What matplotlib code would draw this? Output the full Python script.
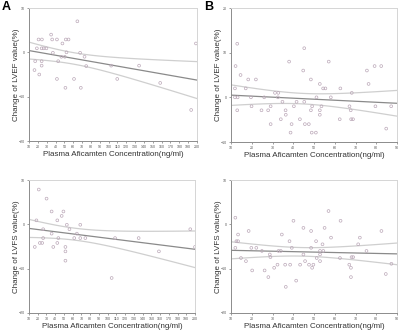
import numpy as np
import matplotlib
matplotlib.use("Agg")
import matplotlib.pyplot as plt

# panel A (plasma conc. 10-200 ng/ml)
a_lvef_x = [64.7, 35, 20.8, 24.6, 36.2, 41.6, 51.6, 54.7, 18.9, 24.3, 26.6, 29.7, 47.8,
            37, 52.4, 67.8, 17, 24.3, 43, 46.6, 50.5, 72.8, 24.3, 74.7, 102.9, 134.5,
            16.2, 21.6, 41.6, 60.9, 109.8, 51.2, 68.6, 158.4, 193.4, 198.8]
a_lvef_y = [7.0, 4.0, 2.9, 2.9, 2.9, 2.9, 2.9, 2.9, 0.9, 0.9, 0.9, 0.9, 2.0,
            -0.1, 0.0, -0.1, -2.0, -2.0, -2.0, -1.0, -1.0, -1.0, -3.0, -3.1, -3.0, -3.0,
            -4.0, -5.0, -6.0, -6.0, -6.0, -8.0, -8.0, -6.9, -13.0, 2.0]

a_lvfs_x = [21.2, 30.1, 35.9, 49.4, 18.5, 42.4, 47.4, 53.3, 68.7, 26.2, 56.3, 35.9, 64.8,
            26.2, 43.6, 61.8, 68.7, 74.5, 108.5, 135.5, 22.4, 25.1, 42.4, 16.6, 37.8,
            51.7, 51.7, 158.7, 51.7, 104.6, 194.6, 200.0]
a_lvfs_y = [7.85, 5.8, 2.9, 2.9, 0.9, 0.9, 1.9, -0.1, -0.1, -1.1, -1.1, -2.1, -2.1,
            -3.1, -3.1, -3.1, -3.1, -3.1, -3.1, -3.1, -4.2, -4.2, -4.2, -5.1, -5.1,
            -5.1, -6.1, -6.1, -8.2, -12.1, -1.1, -5.1]

# panel B (plasma conc. 10-90 ng/ml)
b_lvef_x = [13.0, 12.2, 14.6, 11.9, 11.9, 13.2, 13.0, 17.1, 18.3, 22.0, 19.6, 19.9, 24.7,
            26.0, 27.9, 29.1, 29.1, 31.2, 32.8, 32.6, 34.0, 34.8, 36.3, 36.4, 38.0, 39.2,
            38.7, 40.3, 41.6, 43.2, 44.8, 45.3, 45.3, 45.6, 47.5, 48.5, 48.5, 49.1, 48.9,
            50.9, 51.2, 52.8, 52.8, 52.8, 53.6, 54.4, 55.5, 57.1, 58.1, 62.4, 62.7, 68.2,
            67.1, 67.7, 67.9, 68.8, 75.5, 76.3, 79.2, 79.6, 82.4, 84.8, 87.2]
b_lvef_y = [12.0, 7.0, 5.0, 2.0, 0.0, 0.0, -2.9, 2.0, 4.0, 4.0, 0.0, -2.0, -2.9,
            0.0, -2.9, -2.0, -6.0, 1.0, 1.0, 0.0, -4.9, -1.0, -2.9, -3.9, 8.0, -6.0,
            -7.9, -2.0, -1.0, -4.9, 6.0, 11.0, -1.0, -6.0, -6.0, 4.0, -2.9, -2.0, -7.9,
            -7.9, 0.0, 3.0, -2.9, -3.9, -2.0, 2.0, 2.0, 8.0, 0.0, -4.9, 2.0, 1.0,
            -2.0, -2.9, -4.9, -4.9, 6.0, 3.0, 7.0, -2.0, 7.0, -7.0, -2.0]

b_lvfs_x = [12.1, 13.4, 12.6, 13.4, 12.1, 18.5, 14.8, 17.2, 19.8, 22.2, 20.2, 24.9, 26.2,
            28.0, 28.7, 29.0, 30.8, 32.4, 32.9, 34.0, 34.5, 36.1, 36.4, 38.2, 38.5, 39.3,
            40.1, 41.4, 43.3, 44.9, 44.9, 45.7, 47.6, 48.6, 48.6, 49.1, 49.7, 51.0, 51.3,
            52.9, 52.9, 52.9, 54.1, 54.5, 55.1, 57.0, 58.2, 62.8, 62.5, 67.0, 67.8, 68.1,
            68.9, 67.8, 71.3, 72.1, 75.3, 82.5, 84.6, 87.3]
b_lvfs_y = [1.5, -2.3, -3.8, -3.8, -5.3, -1.5, -7.6, -8.3, -5.3, -5.3, -10.4, -6.0, -10.4,
            -11.9, -6.8, -7.4, -9.8, -9.1, -6.0, -6.0, -2.3, -9.1, -14.1, -3.8, -9.1, -5.3,
            0.8, -12.7, -9.1, -0.8, -6.8, -8.3, -9.1, -1.5, -5.3, -9.8, -9.1, -3.8, -7.6,
            -6.0, -6.8, -8.3, -4.5, -6.0, -0.8, 3.0, -3.0, 0.8, -7.6, -9.1, -9.8, -7.4,
            -7.4, -11.9, -4.5, -3.0, -6.0, -1.5, -11.2, -8.9]

xlabel = "Plasma Aficamten Concentration(ng/ml)"
W, H = 400, 334

plt.rcParams["font.family"] = ["Liberation Sans", "DejaVu Sans"]
fig = plt.figure(figsize=(W / 100, H / 100), dpi=100)


def box(l, r, t, b):
    return [l / W, (H - b) / H, (r - l) / W, (b - t) / H]


def panel(rect, x, y, xlim, xticks, ylim, yticks, ylab):
    ax = fig.add_axes(rect)
    x = np.array(x)
    y = np.array(y)
    ax.scatter(x, y, s=4, facecolors="none", edgecolors="#bba8b8", linewidths=0.5, zorder=3)

    # linear fit + 95% CI of the mean
    n = len(x)
    b1, b0 = np.polyfit(x, y, 1)
    res = y - (b0 + b1 * x)
    s = np.sqrt(np.sum(res ** 2) / (n - 2))
    xx = np.linspace(xlim[0], xlim[1], 100)
    yy = b0 + b1 * xx
    se = s * np.sqrt(1 / n + (xx - x.mean()) ** 2 / np.sum((x - x.mean()) ** 2))
    ax.plot(xx, yy, color="#8a8a8a", lw=0.9)
    ax.plot(xx, yy + 2.0 * se, color="#cfcfcf", lw=0.9)
    ax.plot(xx, yy - 2.0 * se, color="#cfcfcf", lw=0.9)

    ax.set_xlim(xlim)
    ax.set_ylim(ylim)
    ax.set_xticks(xticks)
    ax.set_yticks(yticks)
    ax.tick_params(labelsize=2.6, length=1.5, width=0.4, pad=1.5, colors="#555555")
    for side in ["top", "right"]:
        ax.spines[side].set_color("#d5d5d5")
    for side in ["left", "bottom"]:
        ax.spines[side].set_color("#8c8c8c")
    for sp in ax.spines.values():
        sp.set_linewidth(0.7)
    ax.set_ylabel(ylab, fontsize=5.8, color="#333333")
    ax.yaxis.set_label_coords(-0.055, 0.5)
    ax.set_xlabel(xlabel, fontsize=5.8, color="#333333")
    ax.xaxis.set_label_coords(0.5, -0.075)
    return ax


panel(box(29, 197, 8, 141), a_lvef_x, a_lvef_y, (10, 200), range(10, 201, 10),
      (-20, 10), [-20, -10, 0, 10], "Change of LVEF value(%)")
panel(box(231, 397, 8, 142), b_lvef_x, b_lvef_y, (10, 90), range(10, 91, 10),
      (-10, 20), [-10, 0, 10, 20], "Change of LVEF value(%)")
panel(box(29, 195, 180, 313), a_lvfs_x, a_lvfs_y, (10, 200), range(10, 201, 10),
      (-20, 10), [-20, -10, 0, 10], "Change of LVFS value(%)")
panel(box(231, 397, 180, 313), b_lvfs_x, b_lvfs_y, (10, 90), range(10, 91, 10),
      (-20, 10), [-20, -10, 0, 10], "Change of LVFS value(%)")

fig.text(2 / W, 1 - 1 / H, "A", fontsize=9, fontweight="bold", va="top")
fig.text(204 / W, 1 - 1 / H, "B", fontsize=9, fontweight="bold", va="top")

fig.savefig("out.png", dpi=100)
